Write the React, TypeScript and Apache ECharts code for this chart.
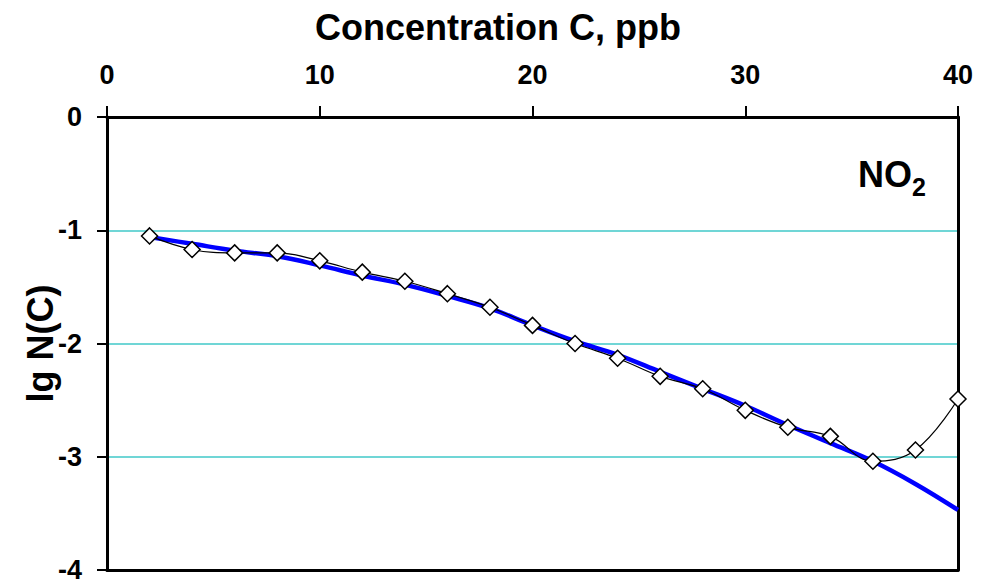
import React, { useEffect, useRef } from "react";
import * as echarts from "echarts";

const concentration = [2, 4, 6, 8, 10, 12, 14, 16, 18, 20, 22, 24, 26, 28, 30, 32, 34, 36, 38, 40];
const measuredLgN = [-1.05, -1.17, -1.2, -1.2, -1.27, -1.37, -1.45, -1.56, -1.68, -1.84, -2.0, -2.13, -2.29, -2.4, -2.59, -2.74, -2.82, -3.04, -2.94, -2.49];
const fittedLgN = [-1.06, -1.12, -1.18, -1.23, -1.31, -1.4, -1.48, -1.58, -1.69, -1.84, -1.98, -2.1, -2.25, -2.4, -2.55, -2.72, -2.88, -3.04, -3.24, -3.47];
const xTitle = "Concentration C, ppb";
const yTitle = "lg N(C)";

const FONT = "'Liberation Sans', Arial, sans-serif";

export default function App() {
  const ref = useRef<HTMLDivElement>(null);
  useEffect(() => {
    document.body.style.margin = "0";
    const chart = echarts.init(ref.current!, null, { renderer: "svg" });
    const measured = concentration.map((c, i) => [c, measuredLgN[i]]);
    const fitted = concentration.map((c, i) => [c, fittedLgN[i]]);
    chart.setOption({
      animation: false,
      backgroundColor: "#fff",
      title: {
        text: xTitle,
        left: 310,
        top: 4,
        textStyle: { fontFamily: FONT, fontWeight: "bold", fontSize: 36, color: "#000" },
      },
      grid: { left: 107, top: 117, right: 38, bottom: 14, containLabel: false },
      xAxis: [
        {
          type: "value",
          position: "top",
          min: 0,
          max: 40,
          interval: 10,
          axisLine: { show: true, lineStyle: { color: "#000", width: 3 } },
          axisTick: { show: true, inside: false, length: 11, lineStyle: { color: "#000", width: 2 } },
          axisLabel: { margin: 29, fontFamily: FONT, fontWeight: "bold", fontSize: 27, color: "#000" },
          splitLine: { show: false },
        },
        {
          type: "value",
          position: "bottom",
          min: 0,
          max: 40,
          interval: 10,
          axisLine: { show: true, onZero: false, lineStyle: { color: "#000", width: 3 } },
          axisTick: { show: false },
          axisLabel: { show: false },
          splitLine: { show: false },
        },
      ],
      yAxis: [
        {
          type: "value",
          position: "left",
          min: -4,
          max: 0,
          interval: 1,
          name: yTitle,
          nameLocation: "middle",
          nameGap: 49,
          nameMoveOverlap: false,
          nameTextStyle: { fontFamily: FONT, fontWeight: "bold", fontSize: 36, color: "#000" },
          axisLine: { show: true, onZero: false, lineStyle: { color: "#000", width: 3 } },
          axisTick: { show: true, inside: false, length: 10, lineStyle: { color: "#000", width: 2 } },
          axisLabel: { margin: 25, fontFamily: FONT, fontWeight: "bold", fontSize: 27, color: "#000" },
          splitLine: { show: true, lineStyle: { color: "#40C8C8", width: 1.5 } },
        },
        {
          type: "value",
          position: "right",
          min: -4,
          max: 0,
          interval: 1,
          axisLine: { show: true, onZero: false, lineStyle: { color: "#000", width: 3 } },
          axisTick: { show: false },
          axisLabel: { show: false },
          splitLine: { show: false },
        },
      ],
      graphic: [
        {
          type: "text",
          left: 858,
          top: 156,
          style: { text: "NO", fontFamily: FONT, fontWeight: "bold", fontSize: 36, fill: "#000" },
        },
        {
          type: "text",
          left: 912,
          top: 174,
          style: { text: "2", fontFamily: FONT, fontWeight: "bold", fontSize: 25, fill: "#000" },
        },
      ],
      series: [
        {
          name: "fit",
          type: "line",
          data: fitted,
          smooth: 0.4,
          showSymbol: false,
          symbol: "none",
          lineStyle: { color: "#0000FF", width: 4.5 },
          z: 2,
        },
        {
          name: "measured",
          type: "line",
          data: measured,
          smooth: 0.4,
          symbol: "diamond",
          symbolSize: 16,
          itemStyle: { color: "#fff", borderColor: "#000", borderWidth: 1.5 },
          lineStyle: { color: "#000", width: 1.2 },
          z: 3,
        },
      ],
    });
    return () => chart.dispose();
  }, []);
  return <div ref={ref} style={{ width: 996, height: 584 }} />;
}
